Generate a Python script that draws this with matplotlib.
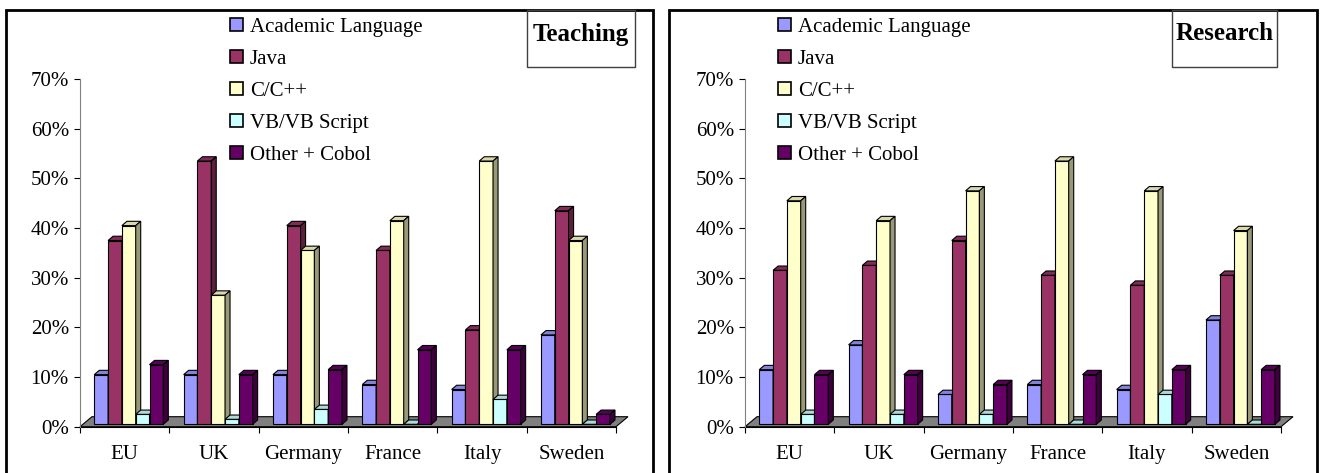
import numpy as np
import matplotlib
matplotlib.use("Agg")
import matplotlib.pyplot as plt
from matplotlib.patches import Polygon, Rectangle, Patch
from matplotlib.colors import to_rgb

plt.rcParams['font.family'] = ['Liberation Serif', 'DejaVu Serif']

# data
countries = ["EU", "UK", "Germany", "France", "Italy", "Sweden"]
series = ["Academic Language", "Java", "C/C++", "VB/VB Script", "Other + Cobol"]
colors = ["#9999FF", "#993366", "#FFFFCC", "#CCFFFF", "#660066"]

teach_academic = [10, 10, 10, 8, 7, 18]
teach_java = [37, 53, 40, 35, 19, 43]
teach_c = [40, 26, 35, 41, 53, 37]
teach_vb = [2, 1, 3, 0, 5, 0]
teach_other = [12, 10, 11, 15, 15, 2]

res_academic = [11, 16, 6, 8, 7, 21]
res_java = [31, 32, 37, 30, 28, 30]
res_c = [45, 41, 47, 53, 47, 39]
res_vb = [2, 2, 2, 0, 6, 0]
res_other = [10, 10, 8, 10, 11, 11]

yticks = [0, 10, 20, 30, 40, 50, 60, 70]

# figure size in px
W, H = 1321, 473
AX_W, AX_H = 536, 347.7      # axes size in px
FLOOR_DX, FLOOR_DY = 12, 10  # floor depth (px)
BAR_DX, BAR_DY = 5, 4.3      # bar depth (px)
BAR_BASE = 2.4               # bars stand a bit back on the floor
BAR_W = 13.8
GROUP_PAD = 14.3
FS = 15

fig = plt.figure(figsize=(W / 100, H / 100), dpi=100)


def fx(x):
    return x / W


def fy(y):
    return 1 - y / H


def shade(c, f):
    r, g, b = to_rgb(c)
    return (r * f, g * f, b * f)


def draw_panel(left_px, values, title, title_box, legend_x):
    ax = fig.add_axes([fx(left_px), fy(426.7), AX_W / W, AX_H / H])
    ax.set_xlim(0, len(countries))
    ax.set_ylim(0, 70)
    sx = len(countries) / AX_W
    sy = 70 / AX_H

    # floor
    n = len(countries)
    ax.add_patch(Polygon([(0, 0), (n, 0), (n + FLOOR_DX * sx, FLOOR_DY * sy),
                          (FLOOR_DX * sx, FLOOR_DY * sy)],
                         closed=True, fc="#808080", ec="black", lw=0.8,
                         clip_on=False, zorder=1))

    base = BAR_BASE * sy
    ddx, ddy = BAR_DX * sx, BAR_DY * sy
    for s, (vals, col) in enumerate(zip(values, colors)):
        x0 = np.arange(n) + (GROUP_PAD + s * BAR_W) * sx
        bars = ax.bar(x0, vals, width=BAR_W * sx, bottom=base, align="edge",
                      color=col, edgecolor="black", lw=0.8, zorder=3 + s,
                      clip_on=False)
        for b in bars:
            x, w = b.get_x(), b.get_width()
            top = b.get_y() + b.get_height()
            ax.add_patch(Polygon([(x, top), (x + w, top), (x + w + ddx, top + ddy),
                                  (x + ddx, top + ddy)], closed=True,
                                 fc=shade(col, 0.85), ec="black", lw=0.8,
                                 zorder=3 + s, clip_on=False))
            ax.add_patch(Polygon([(x + w, base), (x + w + ddx, base + ddy),
                                  (x + w + ddx, top + ddy), (x + w, top)], closed=True,
                                 fc=shade(col, 0.6), ec="black", lw=0.8,
                                 zorder=3 + s, clip_on=False))

    for sp in ["top", "right"]:
        ax.spines[sp].set_visible(False)
    ax.spines["left"].set_color("#808080")
    ax.spines["bottom"].set_color("black")
    ax.spines["bottom"].set_zorder(2)

    ax.set_yticks(yticks)
    ax.set_yticklabels([f"{v}%" for v in yticks])
    ax.tick_params(axis="y", length=4, width=0.8, pad=4, labelsize=FS)
    ax.set_xticks(range(n + 1))
    ax.set_xticklabels([])
    ax.tick_params(axis="x", which="major", length=4.5, width=0.8)
    ax.set_xticks(np.arange(n) + 0.5, minor=True)
    ax.set_xticklabels(countries, minor=True)
    ax.tick_params(axis="x", which="minor", length=0, pad=13, labelsize=FS)
    ax.patch.set_visible(False)

    # title box
    bx0, bx1 = title_box
    fig.add_artist(Rectangle((fx(bx0), fy(67)), (bx1 - bx0) / W, 57 / H,
                             transform=fig.transFigure, fill=False,
                             ec="#404040", lw=1))
    fig.text(fx((bx0 + bx1) / 2), fy(34), title, ha="center", va="center",
             fontsize=18, fontweight="bold")

    handles = [Patch(facecolor=c, edgecolor="black", lw=1.2) for c in colors]
    fig.legend(handles, series, loc="upper left",
               bbox_to_anchor=(fx(legend_x), fy(18)), frameon=False,
               fontsize=FS, borderpad=0, borderaxespad=0, handlelength=0.62,
               handleheight=0.58, handletextpad=0.33, labelspacing=0.62)
    return ax


# panel borders
fig.add_artist(Rectangle((fx(6), fy(490)), 647 / W, 480 / H,
                         transform=fig.transFigure, fill=False, ec="black", lw=2))
fig.add_artist(Rectangle((fx(669), fy(490)), 648 / W, 480 / H,
                         transform=fig.transFigure, fill=False, ec="black", lw=2))

draw_panel(80, [teach_academic, teach_java, teach_c, teach_vb, teach_other],
           "Teaching", (527, 635), 230)
draw_panel(745, [res_academic, res_java, res_c, res_vb, res_other],
           "Research", (1172, 1277), 778)

fig.savefig("out.png", dpi=100)
